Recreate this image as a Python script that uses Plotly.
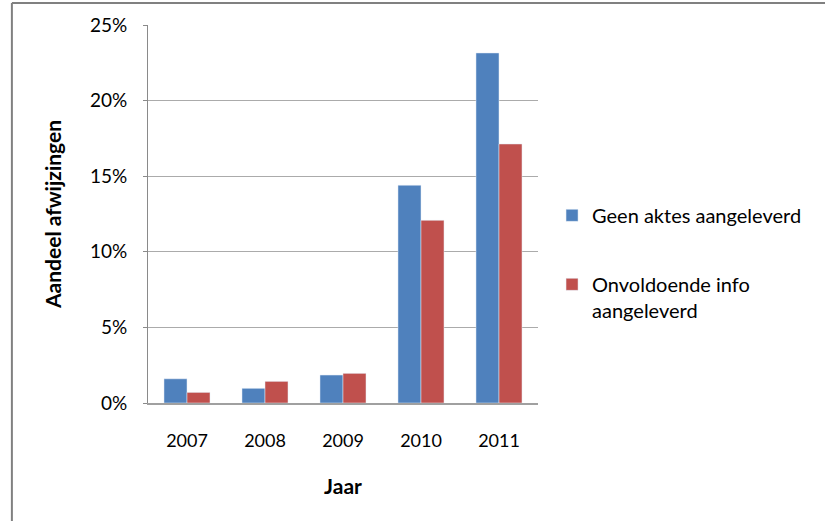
import plotly.graph_objects as go

# jaren en aandeel afwijzingen (%)
jaren = ["2007", "2008", "2009", "2010", "2011"]
geen_aktes = [1.6, 0.97, 1.85, 14.4, 23.15]
onvoldoende_info = [0.7, 1.43, 1.96, 12.08, 17.13]

blauw = "#4F81BD"
rood = "#C0504D"
font = "Lato, Calibri, sans-serif"

fig = go.Figure()
fig.add_trace(go.Bar(x=jaren, y=geen_aktes, name="Geen aktes aangeleverd",
                     marker_color=blauw, legendgroup="a"))
fig.add_trace(go.Bar(x=jaren, y=onvoldoende_info, name="Onvoldoende info<br>aangeleverd",
                     marker_color=rood, legendgroup="b"))

fig.update_layout(
    width=825, height=521,
    margin=dict(l=148, r=287, t=25, b=118),
    paper_bgcolor="white", plot_bgcolor="white",
    font=dict(family=font, size=18, color="black"),
    barmode="group", bargap=0.41, bargroupgap=0,
    showlegend=True,
    legend=dict(x=1.036, y=0.548, xanchor="left", yanchor="top",
                font=dict(size=20), tracegroupgap=40, valign="top",
                traceorder="grouped"),
    xaxis=dict(
        title=dict(text="<b>Jaar</b>", font=dict(size=21), standoff=30),
        showline=True, linecolor="#a0a0a0", linewidth=2,
        ticks="", ticklabelstandoff=20,
        showgrid=False,
    ),
    yaxis=dict(
        title=dict(text="<b>Aandeel afwijzingen</b>", font=dict(size=21), standoff=22),
        range=[0, 25], dtick=5, ticksuffix="%",
        tickfont=dict(size=19),
        showline=True, linecolor="#8a8a8a", linewidth=1,
        ticks="outside", ticklen=4, tickcolor="#8a8a8a",
        ticklabelstandoff=12,
        showgrid=True, gridcolor="#ababab", gridwidth=1,
        zeroline=False,
    ),
)

# rand van het originele kader
fig.add_shape(type="line", xref="paper", yref="paper",
              x0=-0.349, x1=-0.349, y0=-0.4, y1=1.058,
              line=dict(color="#808080", width=2))
fig.add_shape(type="line", xref="paper", yref="paper",
              x0=-0.349, x1=1.8, y0=1.058, y1=1.058,
              line=dict(color="#808080", width=2))

fig.write_html("out.html", config={"displayModeBar": False},
               post_script="document.body.style.margin='0';")
